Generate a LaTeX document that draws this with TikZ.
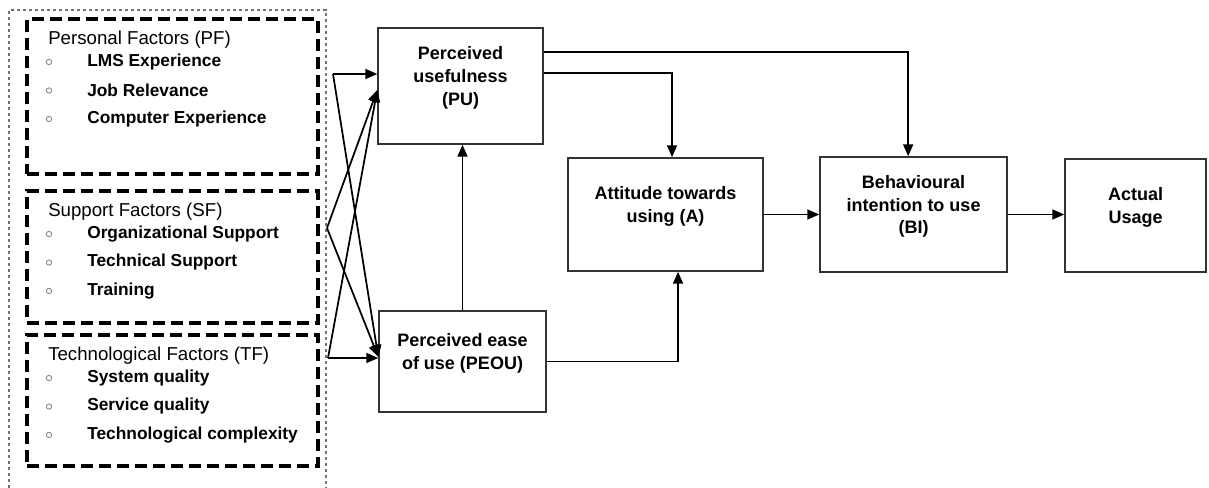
\documentclass[tikz,border=0pt]{standalone}
\usepackage{fontspec}
\setmainfont{Liberation Sans}
\usetikzlibrary{arrows.meta}
\newcommand{\blktext}[1]{\raisebox{6pt}[\height][\depth]{\begin{tabular}{@{}c@{}}#1\end{tabular}}}
\tikzset{
  blk/.style={draw=black!80,line width=1.1pt,inner sep=0pt,
    font=\fontsize{13.5}{17}\selectfont\bfseries},
  grp/.style={draw,line width=2.4pt,dash pattern=on 9pt off 4.5pt,
    minimum width=218.25pt,inner sep=0pt},
  outerbox/.style={draw=black!55,line width=0.9pt,dash pattern=on 2.5pt off 2pt},
  ttl/.style={anchor=west,inner sep=0pt,font=\fontsize{14}{16}\selectfont},
  itm/.style={anchor=west,inner sep=0pt,font=\fontsize{13}{15}\selectfont\bfseries},
  bul/.style={draw=black!45,line width=0.7pt},
  arr/.style={-{Triangle[length=9pt,width=7.5pt]},line width=1.3pt},
}
\begin{document}
\begin{tikzpicture}[x=0.75pt,y=-0.75pt]
  \useasboundingbox (0,0) rectangle (1209,488);
  \draw[outerbox] (9,488) -- (9,10) -- (326,10) -- (326,488);
  \node[grp,minimum height=116.25pt] (pf) at (172.5,96.5) {};
  \node[grp,minimum height=99pt] (sf) at (172.5,257) {};
  \node[grp,minimum height=98.25pt] (tf) at (172.5,400.5) {};

  \node[ttl] (pft) at (48,40) {Personal Factors (PF)};
  \foreach \lbl [count=\i] in {LMS Experience,Job Relevance,Computer Experience}{
    \draw[bul] (49,{33.5+28.5*\i}) circle (2pt);
    \node[itm] (pf\i) at (87,{33.5+28.5*\i}) {\lbl};
  }
  \node[ttl] (sft) at (48,212) {Support Factors (SF)};
  \foreach \lbl [count=\i] in {Organizational Support,Technical Support,Training}{
    \draw[bul] (49,{205.5+28.5*\i}) circle (2pt);
    \node[itm] (sf\i) at (87,{205.5+28.5*\i}) {\lbl};
  }
  \node[ttl] (tft) at (48,356) {Technological Factors (TF)};
  \foreach \lbl [count=\i] in {System quality,Service quality,Technological complexity}{
    \draw[bul] (49,{349.5+28.5*\i}) circle (2pt);
    \node[itm] (tf\i) at (87,{349.5+28.5*\i}) {\lbl};
  }

  \node[blk,minimum width=123.75pt,minimum height=87pt] (pu) at (460.5,86)
    {\blktext{Perceived\\usefulness\\(PU)}};
  \node[blk,minimum width=125.25pt,minimum height=75.75pt] (peou) at (462.5,361.5)
    {\blktext{Perceived ease\\of use (PEOU)}};
  \node[blk,minimum width=146.25pt,minimum height=84.75pt] (att) at (665.5,214.5)
    {\blktext{Attitude towards\\using (A)}};
  \node[blk,minimum width=140.25pt,minimum height=86.25pt] (bi) at (913.5,214.5)
    {\blktext{Behavioural\\intention to use\\(BI)}};
  \node[blk,minimum width=105.75pt,minimum height=84.75pt] (act) at (1135.5,215.5)
    {\blktext{Actual\\Usage}};

  \coordinate (pfo) at (333,74);
  \coordinate (sfo) at (327,228);
  \coordinate (tfo) at (328,358);
  \coordinate (puin) at ([yshift=-3pt]pu.west);
  \coordinate (peouin) at ([yshift=3.4pt]peou.west);
  \draw[arr] (pfo) -- (pfo -| pu.west);
  \draw[arr] (pfo) -- (peouin);
  \draw[arr] (sfo) -- (puin);
  \draw[arr] (sfo) -- (peouin);
  \draw[arr] (tfo) -- (puin);
  \draw[arr] (tfo) -- (tfo -| peou.west);

  \draw[arr] (peou.north) -- (peou.north |- pu.south);
  \draw[arr] ([yshift=9.75pt]pu.east) -| ([xshift=4.9pt]att.north);
  \draw[arr] ([yshift=25.5pt]pu.east) -| ([xshift=-4pt]bi.north);
  \draw[arr] (peou.east) -| ([xshift=9.4pt]att.south);
  \draw[arr] (att.east) -- (att.east -| bi.west);
  \draw[arr] (bi.east) -- (bi.east -| act.west);
\end{tikzpicture}
\end{document}
